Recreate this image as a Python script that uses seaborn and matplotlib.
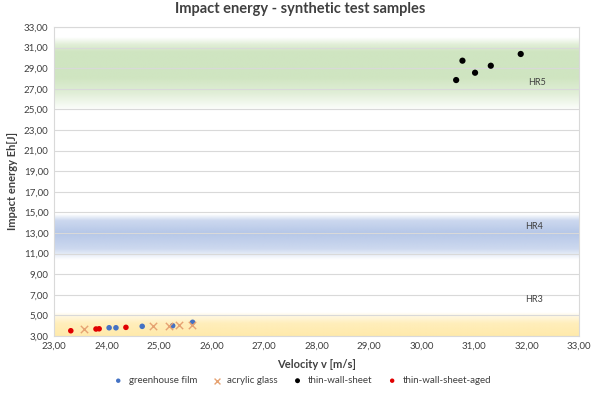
import numpy as np
import pandas as pd
import matplotlib
matplotlib.use("Agg")
import matplotlib.pyplot as plt
import seaborn as sns
from matplotlib.ticker import FuncFormatter, MultipleLocator, FixedLocator
from matplotlib.colors import to_rgb

# ---- data ----
greenhouse_v = [24.05, 24.18, 24.68, 25.26, 25.64]
greenhouse_e = [3.80, 3.80, 3.94, 4.00, 4.33]
acrylic_v = [23.57, 24.89, 25.20, 25.39, 25.62]
acrylic_e = [3.65, 3.97, 4.00, 4.04, 4.07]
thin_v = [30.66, 30.78, 31.02, 31.32, 31.89]
thin_e = [27.85, 29.73, 28.56, 29.24, 30.38]
aged_v = [23.32, 23.80, 23.86, 24.37]
aged_e = [3.51, 3.68, 3.70, 3.84]

series_names = ["greenhouse film", "acrylic glass", "thin-wall-sheet", "thin-wall-sheet-aged"]
y_ticks = [3, 5, 7, 9, 11, 13, 15, 17, 19, 21, 23, 25, 27, 29, 31, 33]
band_labels = ["HR5", "HR4", "HR3"]
band_label_pos = [(32.2, 27.6), (32.15, 13.6), (32.15, 6.5)]

# band gradient profiles: (energy value, opacity)
green_profile = [(24.8, 0.0), (26.5, 0.35), (28.0, 0.55), (30.5, 0.55), (31.2, 0.35), (31.9, 0.0)]
blue_profile = [(10.4, 0.0), (11.5, 0.45), (13.0, 0.65), (14.2, 0.45), (14.8, 0.0)]
yellow_profile = [(3.0, 0.55), (4.2, 0.45), (4.9, 0.2), (5.3, 0.0)]
band_colors = ["#A9D08E", "#8EA9DB", "#FFD966"]

df = pd.concat([
    pd.DataFrame({"v": greenhouse_v, "e": greenhouse_e, "s": series_names[0]}),
    pd.DataFrame({"v": acrylic_v, "e": acrylic_e, "s": series_names[1]}),
    pd.DataFrame({"v": thin_v, "e": thin_e, "s": series_names[2]}),
    pd.DataFrame({"v": aged_v, "e": aged_e, "s": series_names[3]}),
], ignore_index=True)

sns.set_theme(style="white")
plt.rcParams["font.family"] = ["Lato", "DejaVu Sans"]

fig = plt.figure(figsize=(6, 4), dpi=100)
ax = fig.add_axes([0.09, 0.16, 0.875, 0.7725])

xmin, xmax, ymin, ymax = 23, 33, 3, 33


def draw_band(profile, color):
    vals = [p[0] for p in profile]
    alphas = [p[1] for p in profile]
    ys = np.linspace(vals[0], vals[-1], 200)
    a = np.interp(ys, vals, alphas)
    rgb = to_rgb(color)
    img = np.zeros((len(ys), 2, 4))
    img[..., 0], img[..., 1], img[..., 2] = rgb
    img[..., 3] = a[:, None]
    ax.imshow(img, extent=[xmin, xmax, vals[0], vals[-1]], origin="lower",
              aspect="auto", zorder=0.2, interpolation="bilinear")


for prof, col in zip([green_profile, blue_profile, yellow_profile], band_colors):
    draw_band(prof, col)

palette = {series_names[0]: "#4472C4", series_names[1]: "#E6A272",
           series_names[2]: "#000000", series_names[3]: "#E00000"}

for name in series_names:
    sub = df[df["s"] == name]
    if name == series_names[1]:
        ax.scatter(sub["v"], sub["e"], marker="x", s=28, color=palette[name],
                   linewidths=1.0, label=name, zorder=3)
    else:
        sns.scatterplot(data=sub, x="v", y="e", color=palette[name],
                        s=20 if name == series_names[2] else 16,
                        edgecolor="none", ax=ax, label=name, zorder=3)

ax.set_xlim(xmin, xmax)
ax.set_ylim(ymin, ymax)
ax.xaxis.set_major_locator(MultipleLocator(1))
ax.yaxis.set_major_locator(FixedLocator(y_ticks))
fmt = FuncFormatter(lambda v, p: f"{v:.2f}".replace(".", ","))
ax.xaxis.set_major_formatter(fmt)
ax.yaxis.set_major_formatter(fmt)
ax.tick_params(labelsize=7, colors="#404040", length=0, pad=4)
ax.grid(axis="y", color="#D9D9D9", linewidth=0.8, zorder=1)
for sp in ax.spines.values():
    sp.set_color("#D9D9D9")
    sp.set_linewidth(0.8)

for lab, (x, y) in zip(band_labels, band_label_pos):
    ax.text(x, y, lab, fontsize=6.5, color="#404040", ha="center", va="center", zorder=4)

ax.set_xlabel("Velocity v [m/s]", fontsize=8, fontweight="bold", color="#404040", labelpad=6)
ax.set_ylabel("Impact energy Eh[J]", fontsize=8, fontweight="bold", color="#404040", labelpad=4)
fig.suptitle("Impact energy - synthetic test samples", fontsize=10.5, fontweight="bold",
             color="#404040", y=0.995)

handles, labels = ax.get_legend_handles_labels()
if ax.legend_:
    ax.legend_.remove()
fig.legend(handles, labels, loc="lower center", bbox_to_anchor=(0.5, 0.015), ncol=4,
           frameon=False, fontsize=7, handletextpad=0.1, columnspacing=1.0,
           markerscale=0.8, labelcolor="#404040")

fig.savefig("out.png", dpi=100)
